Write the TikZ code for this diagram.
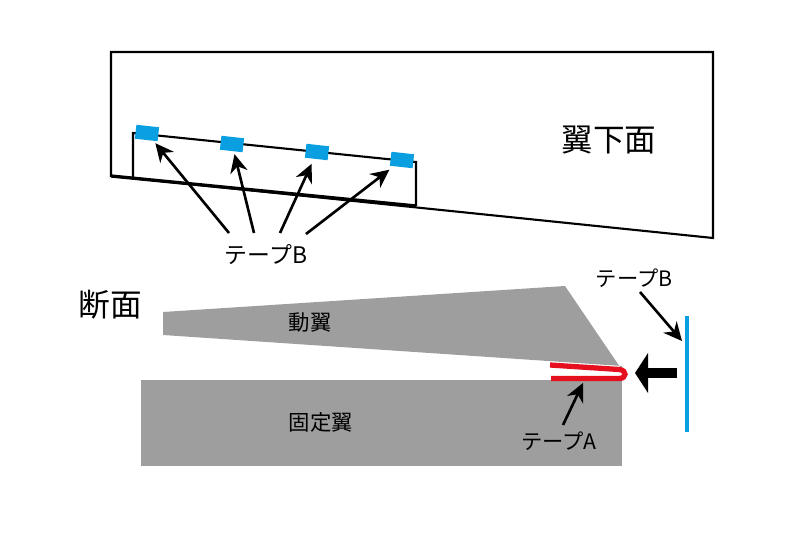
\documentclass[tikz,border=0pt]{standalone}
\usepackage{xcolor}
\usepackage{fontspec}
\usepackage{tikz}
\usetikzlibrary{arrows.meta,positioning,calc}
\setmainfont{Noto Sans CJK JP}
\definecolor{TapeBlue}{HTML}{0A9FE0}
\definecolor{TapeRed}{HTML}{E50F1E}
\definecolor{WingGray}{HTML}{9E9E9E}
\tikzset{
  arr/.style={-{Stealth[length=10.5pt,width=10pt]},line width=1.5pt},
  outl/.style={line width=1.2pt,line join=miter},
  TP/.style={rectangle,fill=TapeBlue,minimum width=13pt,minimum height=8pt,inner sep=0pt,rotate=-6.3},
  lbS/.style={font=\fontsize{13pt}{15pt}\selectfont,inner sep=0pt},
  lbT/.style={font=\fontsize{12.1pt}{14pt}\selectfont,inner sep=0pt},
  lbW/.style={font=\fontsize{12.2pt}{14pt}\selectfont,inner sep=0pt},
  lbL/.style={font=\fontsize{18pt}{20pt}\selectfont,inner sep=0pt}
}
\begin{document}
\begin{tikzpicture}[x=0.02cm,y=-0.02cm]
  \useasboundingbox (0,0) rectangle (800,533);
  % underside of wing
  \draw[outl] (111,52)--(713,52)--(713,238)--(111,176)--cycle;
  \draw[line width=1.9pt] (111,176)--(416,206);
  \draw[outl] (133,177)--(133,133)--(416,162)--(416,206);
  \node[TP] (tapeI) at (147,133) {};
  \node[TP] (tapeII) at (232,144) {};
  \node[TP] (tapeIII) at (317,152) {};
  \node[TP] (tapeIV) at (402,160) {};
  \node[lbL] (under) at (609,140) {翼下面};
  \node[lbS] (labelB) at (266,255) {テープB};
  \coordinate (fromI) at (229,233);
  \coordinate (fromII) at (254,233);
  \coordinate (fromIII) at (280,233);
  \coordinate (fromIV) at (306,234);
  \draw[arr,shorten >=1.5pt] (fromI)--(tapeI);
  \draw[arr,shorten >=1.5pt] (fromII)--(tapeII);
  \draw[arr,shorten >=3pt] (fromIII)--(tapeIII);
  \draw[arr,shorten >=3pt] (fromIV)--(tapeIV);

  % section
  \fill[WingGray] (163,312)--(565,286)--(622,370)--(622,366)--(163,335)--cycle;
  \fill[WingGray] (141,380) rectangle (622,466);
  \draw[TapeRed,line width=3pt] (550,365)--(619,369.5) .. controls (627,370) and (627,378.5) .. (619,378.5)--(551,378.5);
  \draw[TapeBlue,line width=2pt] (687,316) coordinate (bTop)--(687,432) coordinate (bBot);
  \coordinate (pushS) at (677,373);
  \coordinate (pushE) at (635,373);
  \draw[-{Triangle[length=7.5pt,width=22.7pt]},line width=5.7pt] (pushS)--(pushE);
  \node[lbL] (sect) at (110,305) {断面};
  \node[lbW] (moving) at (310,323) {動翼};
  \node[lbW] (fixed) at (321,422) {固定翼};
  \node[lbT] (labelA) at (559,441) {テープA};
  \node[lbT] (labelC) at (634,278) {テープB};
  \coordinate (tipA) at (583,383);
  \coordinate (fromA) at (563,425);
  \coordinate (tipC) at (682,341);
  \coordinate (fromC) at (640,292);
  \draw[arr] (fromA)--(tipA);
  \draw[arr] (fromC)--(tipC);
\end{tikzpicture}
\end{document}
